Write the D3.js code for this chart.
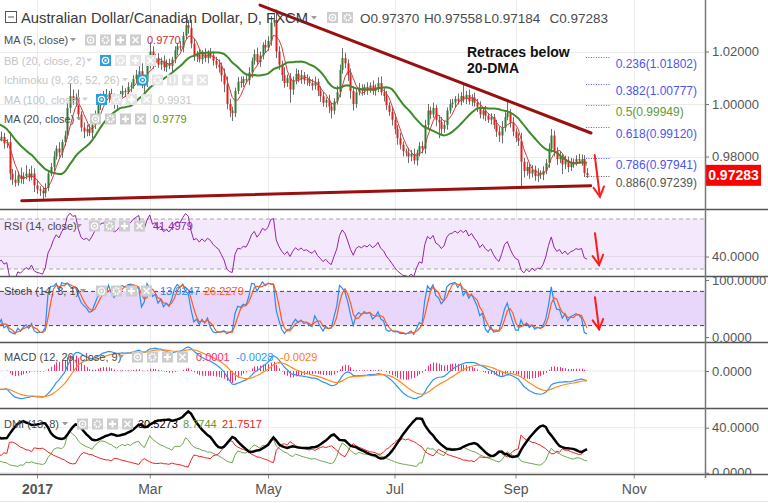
<!DOCTYPE html>
<html><head><meta charset="utf-8">
<script src="https://cdn.jsdelivr.net/npm/d3@7/dist/d3.min.js"></script>
<style>
html,body{margin:0;padding:0;background:#fff;}
svg{display:block;font-family:"Liberation Sans",Arial,sans-serif;}
</style></head><body>
<svg id="chart" width="768" height="503"></svg>
<script>
// ---------------- DATA (daily AUD/CAD, FXCM; bar index 0 = first bar of 2017) ----------------
const FIRST_BAR = -45;
const FIRST_OPEN = 1.0050;
const closes = [
1.0080,1.0120,1.0150,1.0200,1.0230,1.0180,1.0150,1.0100,1.0060,1.0040,
1.0010,0.9985,1.0000,0.9975,1.0010,0.9990,0.9960,0.9985,0.9970,0.9940,
0.9915,0.9930,0.9900,0.9880,0.9905,0.9925,0.9895,0.9870,0.9880,0.9845,
0.9860,
0.9868,0.9875,0.9850,0.9855,0.9735,0.9712,0.9700,0.9728,0.9715,0.9725,0.9735,0.9720,0.9735,0.9690,
0.9675,0.9670,0.9660,0.9680,0.9735,0.9760,0.9800,0.9830,0.9815,0.9855,0.9880,
0.9985,1.0030,1.0015,1.0025,0.9960,0.9910,0.9895,0.9905,0.9890,0.9920,
0.9960,0.9995,1.0020,1.0035,1.0025,1.0040,1.0015,1.0000,1.0010,1.0035,
1.0050,1.0045,1.0065,1.0070,1.0095,1.0110,1.0125,1.0070,1.0085,1.0150,
1.0200,1.0160,1.0175,1.0150,1.0165,1.0140,1.0155,1.0145,1.0170,1.0205,
1.0220,1.0215,1.0260,1.0300,1.0290,1.0230,1.0180,1.0190,1.0170,1.0190,
1.0175,1.0195,1.0185,1.0165,1.0150,1.0140,1.0110,1.0075,1.0000,0.9975,
0.9965,1.0050,1.0085,1.0080,1.0095,1.0090,1.0120,1.0165,1.0190,1.0160,
1.0185,1.0225,1.0215,1.0240,1.0310,1.0320,1.0200,1.0150,1.0110,1.0080,
1.0100,1.0055,1.0090,1.0115,1.0095,1.0110,1.0090,1.0095,1.0080,1.0070,
1.0085,1.0050,1.0030,1.0005,1.0015,0.9990,0.9975,1.0010,1.0045,1.0130,
1.0175,1.0155,1.0110,1.0050,1.0000,1.0045,1.0060,1.0050,1.0065,1.0055,
1.0070,1.0050,1.0060,1.0080,1.0045,1.0030,0.9995,0.9970,0.9940,0.9905,
0.9870,0.9845,0.9820,0.9815,0.9800,0.9810,0.9785,0.9815,0.9840,0.9830,
0.9920,0.9975,0.9960,0.9985,0.9940,0.9930,0.9905,0.9920,0.9975,1.0000,
1.0005,1.0020,1.0010,1.0030,1.0020,1.0035,1.0010,1.0025,1.0005,0.9990,
0.9960,0.9975,0.9955,0.9940,0.9950,0.9920,0.9895,0.9880,0.9910,0.9950,
0.9965,0.9930,0.9895,0.9870,0.9860,0.9780,0.9745,0.9760,0.9735,0.9750,
0.9725,0.9735,0.9730,0.9745,0.9775,0.9830,0.9880,0.9820,0.9790,0.9800,
0.9770,0.9785,0.9760,0.9775,0.9780,0.9790,0.9785,0.9790,0.9737,0.97283
];
const upWickPips = [
20,25,18,30,22,15,12,20,18,25, 15,35,12,40,25,10,38,15,35,14,
18,40,12,35,20,10,42,22,12,38, 14,30,20,15,10,40,18,35,15,30,
15,32,18,30,20,22,12,15,18,10, 15,20,12,25,10,18,20,50,25,15,
30,12,20,15,18,10,15,12,20,15, 22,10,18,25,12,15,20,10,18,12,
15,20,25,30,15,12,35,20,15,18, 12,20,15,18,10,15,12,20,15,45,
20,30,18,12,20,15,22,10,18,12, 15,20,18,25,30,20,15,12,18,20,
10,15,20,12,18,25,15,10,20,18, 25,27,40,20,15,30,12,18,15,20,
15,20,12,18,10,15,20,12,18,15, 10,20,15,12,25,20,38,20,15,25,
18,12,20,15,10,18,12,20,15,22, 25,15,20,12,18,22,15,20,12,10,
18,15,20,12,15,18,20,25,15,20, 12,18,20,15,12,18,15,10,20,15,
46,15,20,12,18,15,20,12,18,10, 15,12,20,18,25,20,46,15,20,12,
18,30,15,20,12,18,15,20,12,18, 15,20,25,18,15,20,12,18,15,20,
12,15,20,18,15,19
];
const lowWickPips = [
15,20,12,18,25,20,15,22,18,12, 20,15,18,12,22,15,20,18,12,25,
15,20,12,18,15,22,12,20,15,18, 12,15,10,20,18,25,20,15,12,18,
20,12,15,10,25,18,20,22,15,12, 10,15,12,18,20,15,12,20,18,25,
20,15,25,18,12,20,15,10,18,12, 15,20,12,18,25,15,10,18,12,20,
12,15,18,10,30,20,15,25,18,12, 20,15,18,12,25,15,20,12,18,15,
22,18,15,20,12,18,15,20,12,18, 15,20,25,30,20,25,30,15,12,18,
15,12,18,20,15,12,18,15,20,12, 18,15,25,20,22,18,15,50,20,15,
12,18,15,20,12,18,15,20,22,15, 18,25,30,15,12,20,15,18,22,30,
25,15,12,18,15,20,12,15,18,15, 12,20,18,15,22,20,25,18,20,15,
25,18,15,20,15,18,20,15,18,12, 25,60,20,15,18,12,15,20,12,15,
15,20,12,18,15,20,15,18,20,12, 18,15,20,25,30,15,12,20,18,15,
20,100,25,18,20,15,18,22,15,20, 12,18,15,20,22,15,37,18,20,15,
18,15,12,20,15,10
];
const monthBars = [0, 41, 84, 130, 174, 217];
const monthLabels = ["2017", "Mar", "May", "Jul", "Sep", "Nov"];
const priceTicks = [0.98, 1.00, 1.02];
const fibRatios = ["0.236", "0.382", "0.5", "0.618", "0.786", "0.886"];
const fibPrices = [1.01802, 1.00777, 0.99949, 0.99120, 0.97941, 0.97239];
const fibBars = [199.6, 208.6];
const trendUpper = [[81.1, 1.0377], [201.45, 0.98895]];
const trendLower = [[-5.56, 0.96316], [201.35, 0.96888]];
const arrowMain = [[202.8, 0.98057], [204.7, 0.96469]];
const arrowRsi = [[202.9, 58.6], [204.4, 33.2]];
const arrowSto = [[202.9, 69.6], [204.4, 13.5]];
const lastPrice = 0.97283;
const ohlcLabels = ["O0.97370", "H0.97558", "L0.97184", "C0.97283"];
const rsiTicks = [40], stoTicks = [0, 100], macdTicks = [0], dmiTicks = [0, 40];

// ---------------- SETUP ----------------
const svg = d3.select("#chart");
const AX = 705;
const P = {main:[0,209], rsi:[210,276], sto:[277,342], macd:[343,408], dmi:[409,474]};
const x = d3.scaleLinear().domain([0, 217]).range([37, 633.75]);
const yMain = d3.scaleLinear().domain([0.98, 1.02]).range([156.5, 51.5]);
const yRsi = d3.scaleLinear().domain([30, 70]).range([269, 219]);
const ySto = d3.scaleLinear().domain([0, 100]).range([337, 280]);
const yMacd = d3.scaleLinear().domain([-0.01, 0.01]).range([409.2, 332.8]);
const yDmi = d3.scaleLinear().domain([0, 40]).range([472.7, 427.7]);

const defs = svg.append("defs");
Object.entries(P).forEach(([k,[t,b]]) => {
  defs.append("clipPath").attr("id","clip-"+k).append("rect").attr("x",0).attr("y",t).attr("width",AX).attr("height",b-t);
  defs.append("clipPath").attr("id","aclip-"+k).append("rect").attr("x",AX).attr("y",t).attr("width",768-AX).attr("height",b-t);
});

// ---------------- INDICATORS ----------------
const bars = closes.map((c,k) => {
  const o = k === 0 ? FIRST_OPEN : closes[k-1];
  return {i: FIRST_BAR + k, o, c, h: Math.max(o,c) + upWickPips[k]/1e4, l: Math.min(o,c) - lowWickPips[k]/1e4};
});
const sma = (a,n) => a.map((_,k) => k < n-1 ? null : d3.mean(a.slice(k-n+1, k+1)));
const ema = (a,n) => { const al = 2/(n+1); let p = a[0]; return a.map(v => p = al*v + (1-al)*p); };
const rma = (a,n) => { let p = a[0]; return a.map((v,k) => k === 0 ? p : (p = (p*(n-1)+v)/n)); };

const ma5 = sma(closes, 5), ma20 = sma(closes, 20);
const ch = closes.map((c,k) => k ? c - closes[k-1] : 0);
const ag = rma(ch.map(v => Math.max(v,0)), 14), adn = rma(ch.map(v => Math.max(-v,0)), 14);
const rsi = ag.map((g,k) => adn[k] === 0 ? 100 : 100 - 100/(1 + g/adn[k]));
const stoK = bars.map((b,k) => { if (k < 13) return null; const w = bars.slice(k-13, k+1);
  const hh = d3.max(w, d => d.h), ll = d3.min(w, d => d.l); return 100*(b.c-ll)/(hh-ll); });
const stoD = stoK.map((v,k) => k < 15 ? null : (stoK[k]+stoK[k-1]+stoK[k-2])/3);
const e12 = ema(closes,12), e26 = ema(closes,26);
const macd = e12.map((v,k) => v - e26[k]);
const sig = ema(macd, 9);
const hist = macd.map((v,k) => v - sig[k]);
const tr = [], pdm = [], mdm = [];
bars.forEach((b,k) => {
  if (!k) { tr.push(b.h-b.l); pdm.push(0); mdm.push(0); return; }
  const p = bars[k-1], up = b.h - p.h, dn = p.l - b.l;
  pdm.push(up > dn && up > 0 ? up : 0); mdm.push(dn > up && dn > 0 ? dn : 0);
  tr.push(Math.max(b.h-b.l, Math.abs(b.h-p.c), Math.abs(b.l-p.c)));
});
const DI_LEN = 13, ADX_LEN = 8;
const trr = rma(tr,DI_LEN), pp = rma(pdm,DI_LEN), mm = rma(mdm,DI_LEN);
const plusDI = pp.map((v,k) => 100*v/trr[k]), minusDI = mm.map((v,k) => 100*v/trr[k]);
const adx = rma(plusDI.map((p,k) => { const s = p + minusDI[k]; return Math.abs(p-minusDI[k])/(s||1); }), ADX_LEN).map(v => 100*v);

const VIS = -17;
const series = (arr) => bars.map((b,k) => ({i:b.i, v:arr[k]})).filter(d => d.i >= VIS && d.v != null);
const lineGen = ys => d3.line().x(d => x(d.i)).y(d => ys(d.v));

// ---------------- BACKGROUND / GRID ----------------
svg.append("rect").attr("width",768).attr("height",503).attr("fill","#fff");
const grid = svg.append("g").attr("stroke","#ebebeb").attr("stroke-width",1);
monthBars.forEach(b => grid.append("line").attr("x1",Math.round(x(b))+0.5).attr("x2",Math.round(x(b))+0.5).attr("y1",0).attr("y2",474));
priceTicks.forEach(p => grid.append("line").attr("x1",0).attr("x2",AX).attr("y1",Math.round(yMain(p))+0.5).attr("y2",Math.round(yMain(p))+0.5));
rsiTicks.forEach(v => grid.append("line").attr("x1",0).attr("x2",AX).attr("y1",yRsi(v)).attr("y2",yRsi(v)));
macdTicks.forEach(v => grid.append("line").attr("x1",0).attr("x2",AX).attr("y1",yMacd(v)).attr("y2",yMacd(v)));
dmiTicks.forEach(v => grid.append("line").attr("x1",0).attr("x2",AX).attr("y1",yDmi(v)).attr("y2",yDmi(v)));

// ---------------- MAIN PANE ----------------
const gm = svg.append("g").attr("clip-path","url(#clip-main)");
const vb = bars.filter(b => b.i >= VIS);
gm.append("g").selectAll("line").data(vb).join("line")
  .attr("x1",d => Math.round(x(d.i))+0.5).attr("x2",d => Math.round(x(d.i))+0.5)
  .attr("y1",d => yMain(d.h)).attr("y2",d => yMain(d.l)).attr("stroke","#6e6e6e").attr("stroke-width",1);
gm.append("g").selectAll("rect").data(vb).join("rect")
  .attr("x",d => Math.round(x(d.i))-0.5).attr("width",2)
  .attr("y",d => yMain(Math.max(d.o,d.c))).attr("height",d => Math.max(1, yMain(Math.min(d.o,d.c)) - yMain(Math.max(d.o,d.c))))
  .attr("fill",d => d.c >= d.o ? "#2e7d32" : "#e0201c");
gm.append("path").datum(series(ma20)).attr("d",lineGen(yMain)).attr("fill","none").attr("stroke","#3f8a2a").attr("stroke-width",2);
gm.append("path").datum(series(ma5)).attr("d",lineGen(yMain)).attr("fill","none").attr("stroke","#d03a3a").attr("stroke-width",1);
[trendUpper, trendLower].forEach(t => gm.append("line")
  .attr("x1",x(t[0][0])).attr("y1",yMain(t[0][1])).attr("x2",x(t[1][0])).attr("y2",yMain(t[1][1]))
  .attr("stroke","#9a1010").attr("stroke-width",3).attr("stroke-linecap","round"));
// fib
const fibColor = r => r === "0.5" ? "#5f9a3a" : (r === "0.886" ? "#555" : "#4b55f2");
fibPrices.forEach((p,k) => {
  const c = fibColor(fibRatios[k]);
  gm.append("line").attr("x1",x(fibBars[0])).attr("x2",x(fibBars[1])).attr("y1",Math.round(yMain(p))+0.5).attr("y2",Math.round(yMain(p))+0.5)
    .attr("stroke",c).attr("stroke-width",1).attr("stroke-dasharray","1,1.5");
  gm.append("text").attr("x",x(fibBars[1])+5).attr("y",yMain(p)+11).attr("font-size",12).attr("fill",c)
    .text(fibRatios[k] + "(" + p.toFixed(5) + ")");
});
// annotation
const note = svg.append("text").attr("font-size",14).attr("font-weight","bold").attr("fill","#111");
note.append("tspan").attr("x",467).attr("y",56.5).text("Retraces below");
note.append("tspan").attr("x",467).attr("y",72.5).text("20-DMA");

// ---------------- RSI ----------------
const gr = svg.append("g").attr("clip-path","url(#clip-rsi)");
gr.append("rect").attr("x",0).attr("width",AX).attr("y",yRsi(70)).attr("height",yRsi(30)-yRsi(70)).attr("fill","#f4e8fc");
[70,30].forEach(v => gr.append("line").attr("x1",0).attr("x2",AX).attr("y1",yRsi(v)).attr("y2",yRsi(v)).attr("stroke","#a8a8a8").attr("stroke-dasharray","4,3"));
gr.append("line").attr("x1",0).attr("x2",AX).attr("y1",yRsi(40)).attr("y2",yRsi(40)).attr("stroke","#e2d6ea");
gr.append("path").datum(series(rsi)).attr("d",lineGen(yRsi)).attr("fill","none").attr("stroke","#9325a8").attr("stroke-width",1);

// ---------------- STOCH ----------------
const gs = svg.append("g").attr("clip-path","url(#clip-sto)");
gs.append("rect").attr("x",0).attr("width",AX).attr("y",ySto(80)).attr("height",ySto(20)-ySto(80)).attr("fill","#e9d7fb");
[80,20].forEach(v => gs.append("line").attr("x1",0).attr("x2",AX).attr("y1",ySto(v)).attr("y2",ySto(v)).attr("stroke","#444").attr("stroke-dasharray","4,3"));
gs.append("path").datum(series(stoK)).attr("d",lineGen(ySto)).attr("fill","none").attr("stroke","#2a8cf0").attr("stroke-width",1.2);
gs.append("path").datum(series(stoD)).attr("d",lineGen(ySto)).attr("fill","none").attr("stroke","#ff5a1f").attr("stroke-width",1.2);

// ---------------- MACD ----------------
const gc = svg.append("g").attr("clip-path","url(#clip-macd)");
gc.append("g").selectAll("line").data(series(hist)).join("line")
  .attr("x1",d => Math.round(x(d.i))+0.5).attr("x2",d => Math.round(x(d.i))+0.5)
  .attr("y1",yMacd(0)).attr("y2",d => yMacd(d.v)).attr("stroke","#ff2a6d").attr("stroke-width",1);
gc.append("path").datum(series(macd)).attr("d",lineGen(yMacd)).attr("fill","none").attr("stroke","#2f96f0").attr("stroke-width",1.2);
gc.append("path").datum(series(sig)).attr("d",lineGen(yMacd)).attr("fill","none").attr("stroke","#ff8a1c").attr("stroke-width",1.2);

// ---------------- DMI ----------------
const gd = svg.append("g").attr("clip-path","url(#clip-dmi)");
gd.append("path").datum(series(plusDI)).attr("d",lineGen(yDmi)).attr("fill","none").attr("stroke","#6aa84f").attr("stroke-width",1);
gd.append("path").datum(series(minusDI)).attr("d",lineGen(yDmi)).attr("fill","none").attr("stroke","#f02020").attr("stroke-width",1);
gd.append("path").datum(series(adx)).attr("d",lineGen(yDmi)).attr("fill","none").attr("stroke","#000").attr("stroke-width",2.5);

// ---------------- ARROWS ----------------
function arrow(pts, ys) {
  const x1 = x(pts[0][0]), y1 = ys(pts[0][1]), x2 = x(pts[1][0]), y2 = ys(pts[1][1]);
  const a = Math.atan2(y2-y1, x2-x1), L = 11, w = 0.5;
  const g = svg.append("g").attr("stroke","#ff1a1a").attr("stroke-width",2).attr("fill","none").attr("stroke-linecap","round");
  g.append("line").attr("x1",x1).attr("y1",y1).attr("x2",x2).attr("y2",y2);
  g.append("polyline").attr("points",[[x2-L*Math.cos(a-w), y2-L*Math.sin(a-w)],[x2,y2],[x2-L*Math.cos(a+w), y2-L*Math.sin(a+w)]].map(p=>p.join(",")).join(" "));
}
arrow(arrowMain, yMain); arrow(arrowRsi, yRsi); arrow(arrowSto, ySto);

// ---------------- LEGENDS ----------------
function caret(x0, y0, col) { svg.append("path").attr("d",`M${x0},${y0} l6,0 l-3,3.5 z`).attr("fill",col); }
function button(x0, y0, kind, faded) {
  const blue = kind === "eyeB";
  const g = svg.append("g").attr("transform",`translate(${x0},${y0})`);
  g.append("rect").attr("width",11).attr("height",11).attr("fill", blue ? "#2a9fdc" : (faded ? "#e4e4e4" : "#cdcdcd"));
  if (kind === "eye" || kind === "eyeB") { g.append("circle").attr("cx",5.5).attr("cy",5.5).attr("r",3.2).attr("fill","none").attr("stroke","#fff").attr("stroke-width",1.3); g.append("circle").attr("cx",5.5).attr("cy",5.5).attr("r",1.2).attr("fill","#fff"); }
  if (kind === "gear") { g.append("circle").attr("cx",5.5).attr("cy",5.5).attr("r",3).attr("fill","none").attr("stroke","#fff").attr("stroke-width",2).attr("stroke-dasharray","1.5,1"); }
  if (kind === "plus") { g.append("path").attr("d","M5.5,2V9M2,5.5H9").attr("stroke","#fff").attr("stroke-width",2); }
  if (kind === "x") { g.append("path").attr("d","M2.5,2.5L8.5,8.5M8.5,2.5L2.5,8.5").attr("stroke","#fff").attr("stroke-width",1.5); }
  if (kind === "paren") { g.append("path").attr("d","M4,2Q2,5.5 4,9M7,2Q9,5.5 7,9").attr("stroke","#fff").attr("stroke-width",1.2).attr("fill","none"); }
}
function legendRow(y, name, faded, caretX, btnX, kinds, values) {
  svg.append("text").attr("x",4).attr("y",y).attr("font-size",11).attr("fill", faded ? "#c4c4c4" : "#4a4a4a").text(name);
  caret(caretX, y-6, faded ? "#d0d0d0" : "#9a9a9a");
  kinds.forEach((kd,k) => button(btnX + 15*k, y-9.5, kd, faded));
  values.forEach(v => svg.append("text").attr("x",v[0]).attr("y",y).attr("font-size",11).attr("fill",v[2]).text(v[1]));
}
// header
svg.append("rect").attr("x",5.5).attr("y",11.5).attr("width",11).attr("height",11).attr("fill","none").attr("stroke","#555");
svg.append("line").attr("x1",8).attr("x2",14).attr("y1",17).attr("y2",17).attr("stroke","#555");
svg.append("text").attr("x",21).attr("y",23).attr("font-size",14.8).attr("fill","#3a3a3a").text("Australian Dollar/Canadian Dollar, D, FXCM");
caret(311, 16, "#9a9a9a");
button(327, 12, "eye", false); button(342, 12, "gear", false);
const ohlcX = [360, 424, 484, 549.5];
ohlcLabels.forEach((t,k) => svg.append("text").attr("x",ohlcX[k]).attr("y",23).attr("font-size",13.5).attr("fill","#4a4a4a").text(t));

legendRow(44, "MA (5, close)", false, 70, 85, ["eye","gear","plus","x"], [[147, "0.9770", "#c43030"]]);
legendRow(64.5, "BB (20, close, 2)", true, 86, 100, ["eyeB","gear","plus","x"], []);
legendRow(84, "Ichimoku (9, 26, 52, 26)", true, 122, 137, ["eyeB","gear","paren","plus","x"], []);
legendRow(103.5, "MA (100, close)", true, 82, 96, ["eyeB","gear","plus","x"], [[158, "0.9931", "#c8c8c8"]]);
legendRow(123, "MA (20, close)", false, 76, 90, ["eye","gear","plus","x"], [[153, "0.9779", "#6b8a1e"]]);
legendRow(230, "RSI (14, close)", false, 76, 89, ["eye","gear","plus","x"], [[153, "41.4979", "#8e2aa0"]]);
legendRow(295, "Stoch (14, 3, 1)", false, 80, 96, ["eye","gear","plus","x"], [[160, "13.9247", "#2a8cf0"], [204, "26.2279", "#ff5a1f"]]);
legendRow(361, "MACD (12, 26, close, 9)", false, 118, 132, ["eye","gear","plus","x"], [[196, "0.0001", "#ff2a6d"], [236, "-0.0028", "#2f96f0"], [280, "-0.0029", "#ff7a1c"]]);
legendRow(428, "DMI (13, 8)", false, 62, 77, ["eye","gear","plus","x"], [[138, "30.5273", "#000"], [183, "8.7744", "#5f9a3a"], [222, "21.7517", "#f02020"]]);

// ---------------- AXES ----------------
function rightAxis(ys, ticks, fmt, pane) {
  const outer = svg.append("g").attr("clip-path",`url(#aclip-${pane})`);
  const g = outer.append("g").attr("transform",`translate(${AX},0)`)
    .call(d3.axisRight(ys).tickValues(ticks).tickFormat(fmt).tickSize(4).tickPadding(3));
  g.select(".domain").remove();
  g.selectAll("line").attr("stroke","#777");
  g.selectAll("text").attr("font-size",13).attr("fill","#555").attr("font-family","Liberation Sans, Arial, sans-serif");
}
rightAxis(yMain, priceTicks, d3.format(".5f"), "main");
rightAxis(yRsi, rsiTicks, d3.format(".4f"), "rsi");
rightAxis(ySto, stoTicks, d3.format(".4f"), "sto");
rightAxis(yMacd, macdTicks, d3.format(".4f"), "macd");
rightAxis(yDmi, dmiTicks, d3.format(".4f"), "dmi");

// price tag
svg.append("rect").attr("x",706).attr("y",yMain(lastPrice)-10.5).attr("width",55).attr("height",21).attr("fill","#ff0000");
svg.append("text").attr("x",733.5).attr("y",yMain(lastPrice)+5).attr("text-anchor","middle").attr("font-size",14).attr("font-weight","bold").attr("fill","#fff").text(lastPrice.toFixed(5));

// bottom axis
const gx = svg.append("g").attr("transform","translate(0,474.5)")
  .call(d3.axisBottom(x).tickValues(monthBars).tickFormat((d,k) => monthLabels[k]).tickSize(4).tickPadding(6));
gx.select(".domain").remove();
gx.selectAll("line").attr("stroke","#888");
gx.selectAll("text").attr("font-size",14).attr("fill","#555").attr("font-family","Liberation Sans, Arial, sans-serif")
  .attr("font-weight",(d,k) => k === 0 ? "bold" : "normal");
svg.append("line").attr("x1",0).attr("x2",768).attr("y1",501.5).attr("y2",501.5).attr("stroke","#e6e6e6");

// separators & axis line
[209.5, 276.5, 342.5, 408.5, 474.5].forEach(y => svg.append("line").attr("x1",0).attr("x2",768).attr("y1",y).attr("y2",y).attr("stroke","#555").attr("stroke-width",1.5));
svg.append("line").attr("x1",AX+0.5).attr("x2",AX+0.5).attr("y1",0).attr("y2",478).attr("stroke","#777").attr("stroke-width",1.5);
</script>
</body></html>
